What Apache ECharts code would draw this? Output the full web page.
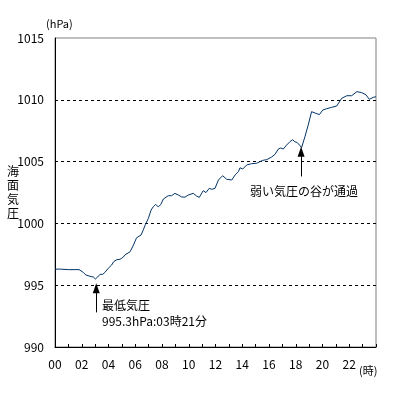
<!DOCTYPE html>
<html>
<head>
<meta charset="utf-8">
<script src="https://cdn.jsdelivr.net/npm/echarts@6/dist/echarts.min.js"></script>
<style>
  html, body { margin: 0; padding: 0; background: #fff; }
  #chart { width: 399px; height: 399px; }
</style>
</head>
<body>
<div id="chart"></div>
<script>
// 観測時刻（00時からの分）
var minutes = [0, 25, 60, 90, 97, 108, 116, 127, 138, 157, 172, 181, 185, 191, 202, 214, 224, 239, 254, 263,
  277, 292, 307, 314, 337, 352, 366, 386, 396, 406, 419, 431, 441, 452, 463, 475, 486, 493, 508, 523,
  538, 553, 568, 583, 598, 620, 635, 647, 665, 677, 692, 703, 718, 733, 752, 770, 793, 808, 823, 830,
  842, 860, 882, 905, 920, 932, 937, 950, 972, 987, 1002, 1012, 1024, 1039, 1054, 1066, 1076, 1086, 1099, 1106,
  1121, 1136, 1151, 1171, 1186, 1201, 1219, 1241, 1264, 1286, 1309, 1331, 1354, 1376, 1395, 1410, 1428, 1440];
// 海面気圧 (hPa)
var pressure = [996.3, 996.3, 996.26, 996.26, 996.15, 996.26, 996.3, 996.04, 995.83, 995.72, 995.66, 995.5, 995.4, 995.66, 995.88, 995.88, 996.04, 996.37, 996.63, 996.9,
  997.06, 997.1, 997.28, 997.45, 997.71, 998.25, 998.84, 999.06, 999.47, 999.93, 1000.41, 1001.08, 1001.35, 1001.54, 1001.33, 1001.54, 1001.97, 1001.9, 1002.24, 1002.24,
  1002.43, 1002.3, 1002.14, 1002.12, 1002.3, 1002.43, 1002.22, 1002.1, 1002.65, 1002.49, 1002.84, 1002.76, 1002.84, 1003.51, 1003.86, 1003.57, 1003.51, 1003.92, 1004.19, 1004.5,
  1004.4, 1004.73, 1004.83, 1004.87, 1005.0, 1005.1, 1004.95, 1005.16, 1005.37, 1005.59, 1006.02, 1006.1, 1006.02, 1006.34, 1006.61, 1006.77, 1006.6, 1006.55, 1006.29, 1006.12,
  1007.0, 1007.96, 1009.04, 1008.9, 1008.8, 1009.17, 1009.28, 1009.39, 1009.5, 1010.12, 1010.33, 1010.33, 1010.66, 1010.58, 1010.4, 1010.04, 1010.2, 1010.25];
var hourLabels = ['00', '02', '04', '06', '08', '10', '12', '14', '16', '18', '20', '22'];
var yTicks = [990, 995, 1000, 1005, 1010, 1015];

// 注記（矢印の位置：分, hPa）
var minArrow = { at: 185, from: 992.8, to: 994.75 };
var troughArrow = { at: 1104, from: 1003.8, to: 1005.8 };

var FONT = '"Noto Sans CJK JP", sans-serif';
var chart = echarts.init(document.getElementById('chart'));

var option = {
  animation: false,
  textStyle: { fontFamily: FONT },
  grid: {
    left: 55, right: 23, top: 38, bottom: 52,
    outerBoundsMode: 'none',
    show: true, borderColor: '#808080', borderWidth: 1
  },
  xAxis: {
    type: 'value',
    min: 0, max: 1440, interval: 60,
    axisLine: { lineStyle: { color: '#000', width: 1 } },
    axisTick: { inside: true, length: 3, lineStyle: { color: '#000' } },
    axisLabel: {
      margin: 11, color: '#000', fontSize: 12, fontFamily: FONT,
      formatter: function (v) {
        if (v % 120 !== 0 || v >= 1440) return '';
        return hourLabels[v / 120];
      }
    },
    splitLine: { show: false }
  },
  yAxis: {
    type: 'value',
    min: yTicks[0], max: yTicks[yTicks.length - 1], interval: 5,
    name: '海\n面\n気\n圧',
    nameLocation: 'middle',
    nameRotate: 0,
    nameGap: 36,
    nameMoveOverlap: false,
    nameTextStyle: { color: '#000', fontSize: 12, lineHeight: 14, fontFamily: FONT },
    axisLine: { show: true, lineStyle: { color: '#000', width: 1 } },
    axisTick: { show: false },
    axisLabel: {
      margin: 11, color: '#000', fontSize: 12, fontFamily: FONT,
      formatter: function (v) { return String(v); }
    },
    splitLine: {
      show: true, showMinLine: false, showMaxLine: false,
      lineStyle: { color: '#000', width: 1, type: [3, 3] }
    }
  },
  series: [{
    type: 'line',
    data: minutes.map(function (m, i) { return [m, pressure[i]]; }),
    symbol: 'none',
    lineStyle: { color: '#003366', width: 1 },
    markLine: {
      silent: true,
      symbol: ['none', 'triangle'],
      symbolSize: [7, 10],
      label: { show: false },
      lineStyle: { color: '#000', width: 1, type: 'solid' },
      data: [
        [{ coord: [minArrow.at, minArrow.from] }, { coord: [minArrow.at, minArrow.to] }],
        [{ coord: [troughArrow.at, troughArrow.from] }, { coord: [troughArrow.at, troughArrow.to] }]
      ]
    }
  }],
  graphic: [
    { type: 'text', left: 46, top: 18, style: { text: '(hPa)', font: '11px ' + FONT, fill: '#000' } },
    { type: 'text', left: 359, top: 365, style: { text: '(時)', font: '11px ' + FONT, fill: '#000' } },
    { type: 'text', left: 102, top: 299, style: { text: '最低気圧', font: '12px ' + FONT, fill: '#000' } },
    { type: 'text', left: 102, top: 315, style: { text: '995.3hPa:03時21分', font: '12px ' + FONT, fill: '#000' } },
    { type: 'text', left: 250, top: 185, style: { text: '弱い気圧の谷が通過', font: '12px ' + FONT, fill: '#000' } }
  ]
};
chart.setOption(option);
</script>
</body>
</html>
